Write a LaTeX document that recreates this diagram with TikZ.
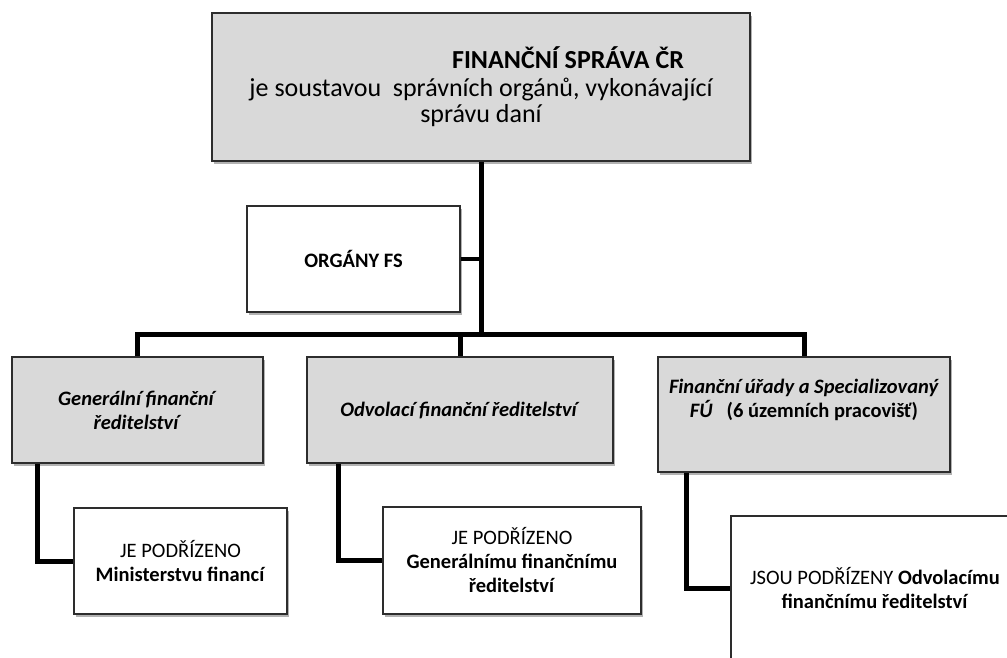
\documentclass[tikz,border=0pt]{standalone}
\usepackage{fontspec}
\setmainfont{Carlito}
\usetikzlibrary{shadows}
\definecolor{boxgray}{RGB}{217,217,217}
\definecolor{boxline}{RGB}{45,45,45}
\begin{document}
\begin{tikzpicture}[x=1pt,y=-1pt,
  box/.style={draw=boxline, line width=1.5pt, align=center, inner sep=0pt,
    font=\fontsize{20.5}{24}\selectfont,
    drop shadow={shadow xshift=2pt, shadow yshift=-3pt, opacity=0.3, fill=black}},
  graybox/.style={box, fill=boxgray},
  whitebox/.style={box, fill=white},
  conn/.style={line width=5pt, line join=miter, draw=black}
]
\useasboundingbox (0,0) rectangle (1007,657);
\clip (0,0) rectangle (1007,657);

\node[graybox, minimum width=538pt, minimum height=148pt,
      font={\fontsize{26}{28}\selectfont\lineskiplimit=-50pt}] (top) at (481,87)
  {\hspace*{174pt}\textbf{FINANČNÍ SPRÁVA ČR}\\je soustavou\ \ správních orgánů, vykonávající\\[-2pt]správu daní};
\node[whitebox, minimum width=213pt, minimum height=106pt] (org) at (353.5,259)
  {\textbf{ORGÁNY FS}};
\node[graybox, minimum width=251pt, minimum height=106pt] (b1) at (137.5,410)
  {\textbf{\textit{Generální finanční}}\\\textbf{\textit{ředitelství}}};
\node[graybox, minimum width=306pt, minimum height=106pt] (b2) at (460,410)
  {\textbf{\textit{Odvolací finanční ředitelství}}};
\node[graybox, minimum width=292pt, minimum height=115pt] (b3) at (804,414.5)
  {\textbf{\textit{Finanční úřady a Specializovaný}}\\\textbf{\textit{FÚ}\ \ \ (6 územních pracovišť)}\\[8pt]\mbox{}};
\node[whitebox, minimum width=213pt, minimum height=106pt] (c1) at (180.5,561)
  {JE PODŘÍZENO\\\textbf{Ministerstvu financí}};
\node[whitebox, minimum width=258pt, minimum height=107pt] (c2) at (512,560.5)
  {JE PODŘÍZENO\\\textbf{Generálnímu finančnímu}\\\textbf{ředitelství}};
\node[whitebox, minimum width=288pt, minimum height=144pt] (c3) at (875,588)
  {JSOU PODŘÍZENY \textbf{Odvolacímu}\\\textbf{finančnímu ředitelství}};

\coordinate (bar) at (481,334);
\draw[conn] (top.south) -- (top.south |- bar);
\draw[conn, line width=4pt] (org.east) -- (org.east -| top.south);
\draw[conn] (b1.north) |- (bar) -| (b3.north);
\draw[conn] (b2.north) -- (b2.north |- bar);
\draw[conn] ([xshift=26pt]b1.south west) |- (c1.west);
\draw[conn] ([xshift=32pt]b2.south west) |- (c2.west);
\draw[conn] ([xshift=29pt]b3.south west) |- (c3.west);
\end{tikzpicture}
\end{document}
